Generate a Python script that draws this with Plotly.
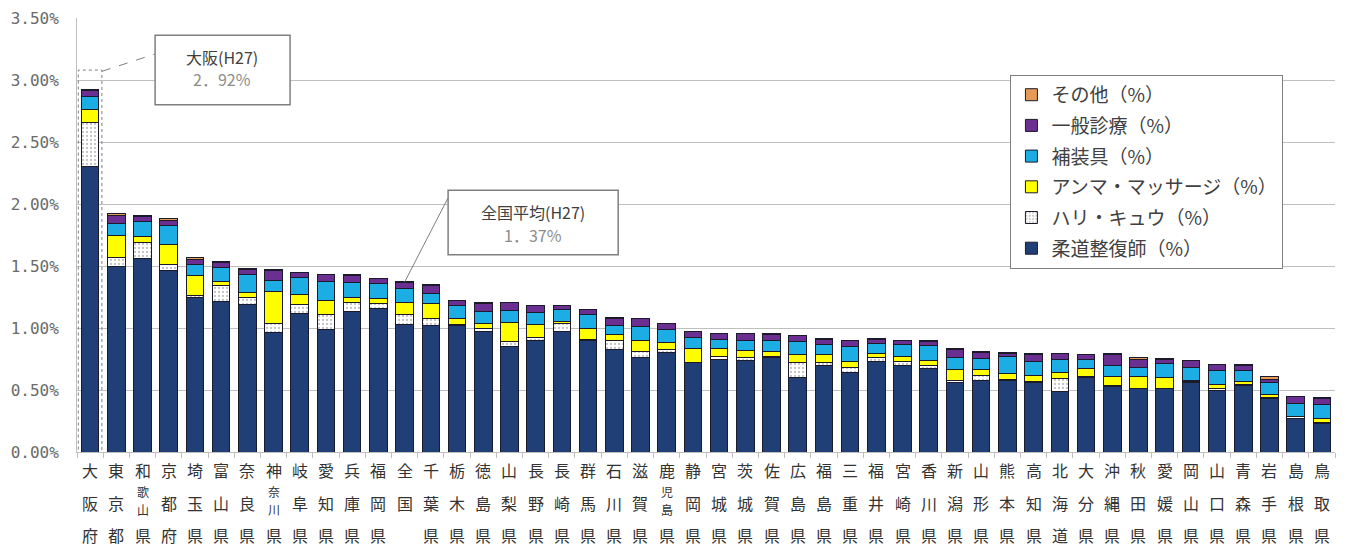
import plotly.graph_objects as go

cats = ["大阪府","東京都","和歌山県","京都府","埼玉県","富山県","奈良県","神奈川県","岐阜県","愛知県",
        "兵庫県","福岡県","全国","千葉県","栃木県","徳島県","山梨県","長野県","長崎県","群馬県",
        "石川県","滋賀県","鹿児島県","静岡県","宮城県","茨城県","佐賀県","広島県","福島県","三重県",
        "福井県","宮崎県","香川県","新潟県","山形県","熊本県","高知県","北海道","大分県","沖縄県",
        "秋田県","愛媛県","岡山県","山口県","青森県","岩手県","島根県","鳥取県"]

judo = [2.305,1.50,1.56,1.46,1.25,1.21,1.19,0.965,1.12,0.99,1.13,1.16,1.03,1.02,1.02,0.97,0.85,0.90,0.97,0.90,
        0.83,0.76,0.80,0.72,0.75,0.74,0.76,0.60,0.70,0.64,0.73,0.70,0.67,0.56,0.575,0.575,0.56,0.49,0.60,0.53,
        0.51,0.51,0.56,0.50,0.535,0.43,0.27,0.23]
hari = [0.35,0.07,0.13,0.05,0.01,0.13,0.06,0.075,0.07,0.12,0.075,0.04,0.075,0.055,0.01,0.025,0.04,0.025,0.07,0.005,
        0.07,0.05,0.03,0.005,0.02,0.02,0.01,0.125,0.025,0.04,0.035,0.03,0.03,0.015,0.04,0.01,0.01,0.10,0.01,0.005,
        0.005,0.005,0.01,0.01,0.01,0.01,0.015,0.01]
anma = [0.11,0.18,0.05,0.16,0.16,0.035,0.035,0.255,0.08,0.11,0.045,0.04,0.10,0.12,0.05,0.045,0.155,0.10,0.01,0.09,
        0.05,0.09,0.055,0.11,0.065,0.06,0.04,0.065,0.065,0.05,0.03,0.04,0.04,0.09,0.05,0.05,0.05,0.05,0.06,0.07,
        0.09,0.085,0.01,0.035,0.025,0.02,0.005,0.03]
hosou = [0.10,0.09,0.12,0.16,0.09,0.11,0.15,0.09,0.135,0.155,0.12,0.115,0.11,0.08,0.10,0.095,0.095,0.10,0.10,0.11,
         0.07,0.115,0.105,0.09,0.07,0.08,0.09,0.10,0.075,0.12,0.08,0.10,0.115,0.10,0.09,0.135,0.11,0.107,0.08,0.09,
         0.08,0.11,0.10,0.11,0.09,0.10,0.10,0.11]
ippan = [0.05,0.07,0.04,0.04,0.045,0.045,0.04,0.08,0.04,0.055,0.055,0.045,0.055,0.07,0.04,0.065,0.065,0.055,0.03,0.045,
         0.06,0.06,0.045,0.045,0.05,0.055,0.05,0.05,0.045,0.05,0.035,0.03,0.04,0.065,0.045,0.025,0.06,0.048,0.035,0.095,
         0.06,0.04,0.055,0.05,0.04,0.027,0.055,0.055]
sonota = [0.005,0.01,0.005,0.01,0.01,0.003,0.005,0.003,0.005,0.005,0.005,0.003,0.005,0.003,0.003,0.003,0.003,0.003,0.003,0.003,
          0.003,0.003,0.003,0.003,0.003,0.003,0.003,0.003,0.003,0.003,0.003,0.003,0.003,0.003,0.01,0.005,0.003,0.003,0.003,0.003,
          0.02,0.003,0.003,0.003,0.003,0.02,0.003,0.003]

series = [
    ("柔道整復師（%）", judo, "#203F77", None),
    ("ハリ・キュウ（%）", hari, "#FFFFFF", "."),
    ("アンマ・マッサージ（%）", anma, "#FFFF00", None),
    ("補装具（%）", hosou, "#1BADE3", None),
    ("一般診療（%）", ippan, "#6B2E91", None),
    ("その他（%）", sonota, "#E59A55", None),
]

FONT = "Noto Sans CJK JP"

fig = go.Figure()
n = len(series)
for i, (name, vals, color, pat) in enumerate(series):
    marker = dict(color=color, line=dict(color="#1a1a2a", width=1))
    if pat:
        marker["pattern"] = dict(shape=pat, fgcolor="#888888", bgcolor="#FFFFFF", size=4, solidity=0.25)
    fig.add_trace(go.Bar(x=cats, y=vals, name=name, marker=marker,
                         legendgroup=str(i), legendrank=n - i))

fig.update_layout(
    barmode="stack",
    bargap=0.33,
    width=1348, height=552,
    margin=dict(l=69, r=21, t=10, b=108, autoexpand=False),
    plot_bgcolor="white", paper_bgcolor="white",
    font=dict(family=FONT, color="#404040"),
    legend=dict(
        x=0.742, y=0.869, xanchor="left", yanchor="top",
        traceorder="grouped", tracegroupgap=3, itemwidth=30,
        bordercolor="#7F7F7F", borderwidth=1, bgcolor="white",
        font=dict(size=19, color="#404040", family=FONT),
    ),
    showlegend=True,
)
fig.update_yaxes(
    range=[0, 3.5], dtick=0.5, tickformat=".2f", ticksuffix="%",
    showgrid=True, gridcolor="#BFBFBF", gridwidth=1,
    showline=True, linecolor="#BFBFBF", ticks="", zeroline=False,
    ticklabelstandoff=14,
    tickfont=dict(size=16, color="#6a6a6a", family="DejaVu Sans Mono"),
)
fig.update_xaxes(
    tickmode="array", tickvals=cats, showticklabels=False,
    showline=True, linecolor="#BFBFBF", ticks="outside", tickson="boundaries",
    ticklen=5, tickcolor="#BFBFBF",
)

# vertical category labels, one character per row, placed at each category
for c in cats:
    ch = list(c)
    if len(ch) == 4:
        rows = [(ch[0], -18, 16), (ch[1], -39, 12), (ch[2], -57, 12), (ch[3], -83, 16)]
    else:
        shifts = [-18, -51, -83]
        rows = [(ch[k], shifts[k], 16) for k in range(len(ch))]
    for t, ys, fs in rows:
        fig.add_annotation(x=c, y=0, xref="x", yref="paper", yshift=ys, showarrow=False,
                           text=t, xanchor="center", yanchor="middle",
                           font=dict(size=fs, color="#333333", family=FONT))

# Osaka highlight
fig.add_shape(type="rect", xref="x", yref="y", x0=-0.45, x1=0.45, y0=-0.81, y1=3.08,
              line=dict(color="#7F7F7F", width=1, dash="dot"), layer="above")
fig.add_shape(type="line", xref="x", yref="y", x0=0.45, y0=3.07, x1=2.48, y1=3.21,
              line=dict(color="#7F7F7F", width=1, dash="dash"))
fig.add_shape(type="rect", xref="x", yref="y", x0=2.48, x1=7.63, y0=2.80, y1=3.36,
              line=dict(color="#7F7F7F", width=1.5), fillcolor="white", layer="above")
fig.add_annotation(x=5.05, y=3.185, xref="x", yref="y", showarrow=False, text="大阪(H27)",
                   font=dict(size=16, color="#404040", family=FONT))
fig.add_annotation(x=5.05, y=3.01, xref="x", yref="y", showarrow=False, text="2．92%",
                   font=dict(size=16, color="#8c8c8c", family=FONT))

# National average
fig.add_shape(type="line", xref="x", yref="y", x0=12, y0=1.37, x1=13.66, y1=2.05,
              line=dict(color="#7F7F7F", width=1))
fig.add_shape(type="rect", xref="x", yref="y", x0=13.66, x1=20.15, y0=1.59, y1=2.11,
              line=dict(color="#7F7F7F", width=1.5), fillcolor="white", layer="above")
fig.add_annotation(x=16.9, y=1.935, xref="x", yref="y", showarrow=False, text="全国平均(H27)",
                   font=dict(size=16, color="#404040", family=FONT))
fig.add_annotation(x=16.9, y=1.75, xref="x", yref="y", showarrow=False, text="1．37%",
                   font=dict(size=16, color="#8c8c8c", family=FONT))

fig.write_html("out.html")
